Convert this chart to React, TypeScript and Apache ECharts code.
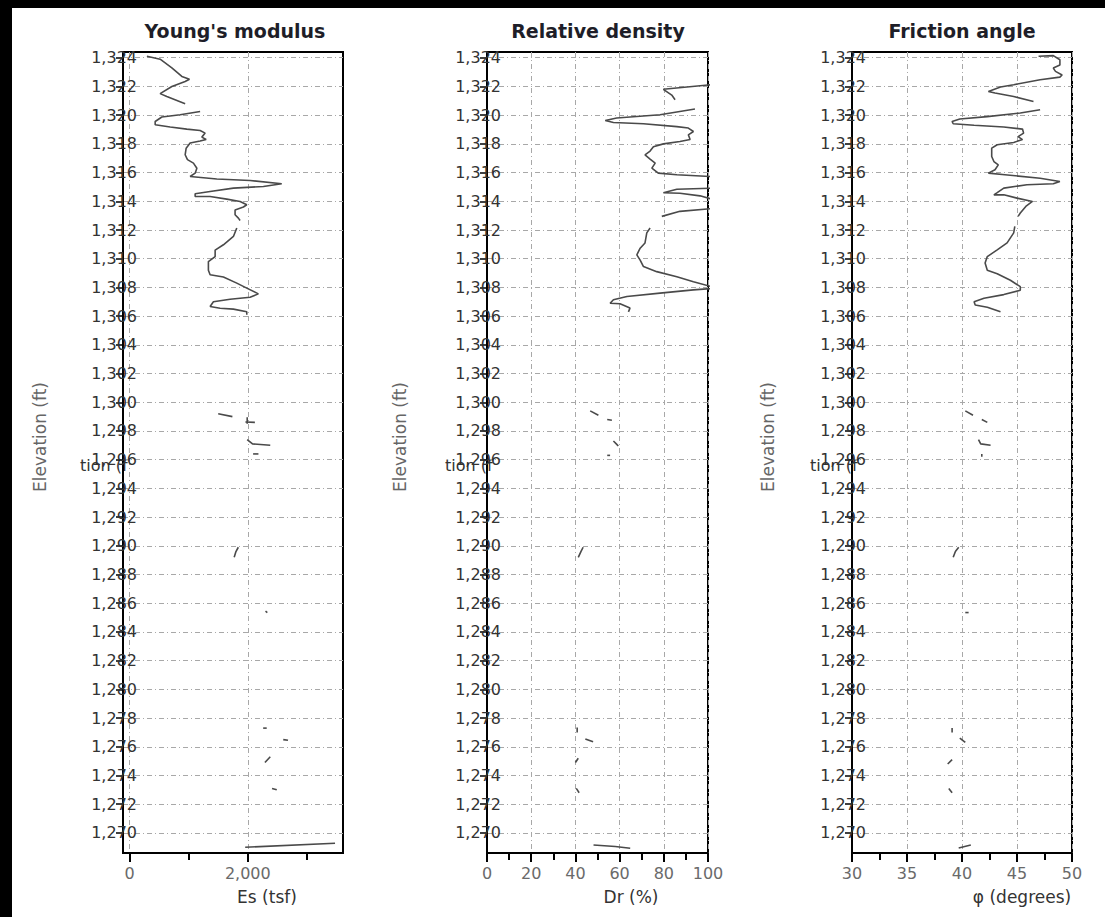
import React, { useEffect, useRef } from "react";
import * as echarts from "echarts";

// ---------- data ----------
const elevTicks = [1270, 1272, 1274, 1276, 1278, 1280, 1282, 1284, 1286, 1288, 1290, 1292, 1294, 1296, 1298, 1300, 1302, 1304, 1306, 1308, 1310, 1312, 1314, 1316, 1318, 1320, 1322, 1324];
const elevMin = 1268.6;
const elevMax = 1324.4;

const titles = ["Young's modulus", "Relative density", "Friction angle"];
const xNames = ["Es (tsf)", "Dr (%)", "φ (degrees)"];
const yName = "Elevation (ft)";

const esMajor = [0, 2000];
const esMinor = [1000, 3000];
const drMajor = [0, 20, 40, 60, 80, 100];
const drMinor = [10, 30, 50, 70, 90];
const phiMajor = [30, 35, 40, 45, 50];
const phiMinor = [32.5, 37.5, 42.5, 47.5];

// [value, elevation]; null = gap in the log
const esData: (number[] | null)[] = [
  [294, 1324.1], [518, 1323.9], [716, 1323.3], [885, 1322.7], [1014, 1322.5], [941, 1322.35], [716, 1322.0], [518, 1321.5], [631, 1321.3], [941, 1320.8],
  null,
  [1194, 1320.26], [856, 1320.03], [547, 1319.87], [434, 1319.56], [434, 1319.33], [688, 1319.17], [969, 1319.03], [1194, 1318.93], [1279, 1318.75], [1223, 1318.47], [1296, 1318.3], [1194, 1318.2], [1025, 1318.06], [958, 1317.7], [941, 1317.24], [980, 1316.9], [1081, 1316.66], [1139, 1316.3], [1110, 1315.96], [1025, 1315.73], [1476, 1315.55], [2039, 1315.45], [2574, 1315.22], [2264, 1315.03], [1757, 1314.92], [1363, 1314.68], [1110, 1314.52], [1110, 1314.33], [1363, 1314.33], [1645, 1314.15], [1870, 1313.99], [1983, 1313.76], [1926, 1313.6], [1785, 1313.4], [1785, 1313.06], [1841, 1312.83], [1870, 1312.66],
  null,
  [1814, 1312.14], [1757, 1311.55], [1588, 1310.97], [1448, 1310.6], [1448, 1310.15], [1334, 1309.8], [1334, 1309.2], [1363, 1308.88], [1588, 1308.72], [1814, 1308.3], [1983, 1307.95], [2179, 1307.55], [2039, 1307.32], [1701, 1307.18], [1419, 1307.0], [1363, 1306.67], [1532, 1306.55], [1757, 1306.49], [1983, 1306.3], [1983, 1306.09],
  null, [1500, 1299.2], [1740, 1299.0],
  null, [1990, 1298.95], [1990, 1298.5],
  null, [1960, 1298.62], [2120, 1298.6],
  null, [1990, 1297.4], [2080, 1297.1], [2380, 1297.0],
  null, [2090, 1296.4], [2180, 1296.4],
  null, [1840, 1289.9], [1800, 1289.6], [1770, 1289.2],
  null, [2300, 1285.45], [2330, 1285.35],
  null, [2260, 1277.3], [2320, 1277.3],
  null, [2600, 1276.5], [2680, 1276.45],
  null, [2290, 1274.9], [2380, 1275.3],
  null, [2410, 1273.1], [2490, 1273.0],
  null, [1956, 1269.0], [3475, 1269.28],
];

const drData: (number[] | null)[] = [
  [104, 1322.15], [100, 1322.1], [79.8, 1321.8], [83.6, 1321.4], [85.1, 1321.07],
  null,
  [94.1, 1320.43], [78.3, 1320.03], [58.7, 1319.8], [53.5, 1319.63], [57.2, 1319.49], [70.8, 1319.4], [85.9, 1319.2], [91.1, 1319.1], [93.4, 1318.86], [91.1, 1318.63], [91.9, 1318.3], [87.3, 1318.17], [79.8, 1318.0], [75.3, 1317.8], [73.8, 1317.5], [71.5, 1317.24], [73.8, 1316.94], [76.1, 1316.66], [74.6, 1316.31], [77.5, 1315.96], [85.9, 1315.85], [104, 1315.7],
  null,
  [104, 1314.92], [85.9, 1314.84], [79.8, 1314.6], [87.3, 1314.56], [96.4, 1314.38], [104, 1314.05],
  null,
  [104, 1313.52], [87.3, 1313.3], [79.1, 1312.95],
  null,
  [73.8, 1312.14], [72.3, 1311.8], [71.5, 1311.1], [69.3, 1310.73], [67.8, 1310.27], [69.3, 1309.9], [70.8, 1309.45], [76.8, 1309.1], [85.9, 1308.75], [93.4, 1308.4], [104, 1307.95], [93.4, 1307.83], [78.3, 1307.6], [63.3, 1307.37], [57.2, 1307.14], [55.7, 1306.9], [60.2, 1306.86], [64.7, 1306.56], [64.0, 1306.3],
  null, [46.7, 1299.4], [50.4, 1299.1],
  null, [54.4, 1298.8], [56.5, 1298.75],
  null, [57.2, 1297.3], [58.5, 1297.1], [59.4, 1296.95],
  null, [54.4, 1296.3], [55.7, 1296.3],
  null, [43.5, 1289.9], [42.5, 1289.6], [41.3, 1289.2],
  null, [40.8, 1277.35], [40.8, 1277.0],
  null, [44.5, 1276.55], [48, 1276.35],
  null, [41.3, 1275.2], [40, 1274.9],
  null, [40.4, 1273.1], [41.7, 1272.8],
  null, [48.2, 1269.16], [58, 1269.05], [64.8, 1268.93],
];

const phiData: (number[] | null)[] = [
  [46.96, 1324.1], [48.3, 1324.15], [48.9, 1323.86], [48.9, 1323.5], [48.3, 1323.28], [48.5, 1323.05], [49.1, 1322.8], [48.9, 1322.65], [47.1, 1322.47], [44.7, 1322.12], [43.5, 1321.96], [42.4, 1321.65], [43.0, 1321.54], [44.7, 1321.3], [46.5, 1320.95],
  null,
  [47.1, 1320.38], [45.3, 1320.15], [42.3, 1319.9], [39.8, 1319.73], [39.1, 1319.56], [39.2, 1319.4], [41.1, 1319.3], [43.8, 1319.17], [45.5, 1319.03], [45.6, 1318.75], [45.1, 1318.5], [45.5, 1318.3], [44.7, 1318.1], [43.2, 1317.94], [42.7, 1317.7], [42.7, 1317.12], [42.9, 1316.77], [43.3, 1316.54], [43.0, 1316.2], [42.4, 1315.96], [43.9, 1315.85], [47.1, 1315.6], [48.9, 1315.38], [48.3, 1315.22], [45.9, 1315.15], [43.8, 1314.92], [43.2, 1314.6], [42.9, 1314.45], [43.8, 1314.45], [45.0, 1314.22], [46.4, 1313.99], [45.8, 1313.64], [45.3, 1313.18], [45.1, 1312.95],
  null,
  [44.8, 1312.25], [44.7, 1311.8], [44.1, 1311.1], [43.2, 1310.62], [42.3, 1310.15], [42.1, 1309.7], [42.3, 1309.2], [43.2, 1308.95], [44.4, 1308.5], [45.3, 1308.05], [45.3, 1307.8], [43.8, 1307.5], [42.0, 1307.25], [41.1, 1307.0], [41.2, 1306.78], [42.3, 1306.62], [43.5, 1306.3],
  null, [40.3, 1299.4], [41.0, 1299.1],
  null, [41.8, 1298.8], [42.3, 1298.6],
  null, [41.5, 1297.4], [41.7, 1297.1], [42.6, 1297.0],
  null, [41.8, 1296.4], [41.8, 1296.2],
  null, [39.7, 1289.9], [39.4, 1289.6], [39.2, 1289.2],
  null, [40.3, 1285.35], [40.6, 1285.35],
  null, [39.1, 1277.3], [39.1, 1277.0],
  null, [39.8, 1276.6], [40.3, 1276.3],
  null, [39.1, 1275.1], [38.7, 1274.8],
  null, [38.8, 1273.1], [39.1, 1272.8],
  null, [39.7, 1268.95], [40.8, 1269.16],
];

// ---------- helpers ----------
function splitSegments(d: (number[] | null)[]): number[][][] {
  const out: number[][][] = [];
  let cur: number[][] = [];
  for (const p of d) {
    if (p === null) {
      if (cur.length) out.push(cur);
      cur = [];
    } else cur.push(p);
  }
  if (cur.length) out.push(cur);
  return out;
}

const FONT = '"DejaVu Sans", Verdana, sans-serif';
const fmtNum = (v: number) => Number(v).toLocaleString("en-US");

export default function App() {
  const ref = useRef<HTMLDivElement>(null);

  useEffect(() => {
    if (!ref.current) return;
    const chart = echarts.init(ref.current, undefined, { renderer: "svg" });

    const panels = [
      { data: esData, min: -110, max: 3610, major: esMajor, minor: esMinor, left: 123, width: 220, titleX: 235, nameX: 267, yNameX: 40, tionX: 80 },
      { data: drData, min: 0, max: 100, major: drMajor, minor: drMinor, left: 487, width: 221, titleX: 598, nameX: 631, yNameX: 400, tionX: 445 },
      { data: phiData, min: 30, max: 50, major: phiMajor, minor: phiMinor, left: 852, width: 220, titleX: 962, nameX: 1022, yNameX: 768, tionX: 810 },
    ];

    const gridLine = { color: "#a8a8a8", width: 1, type: [5, 3, 1, 3] as number[] };

    const grid: any[] = [];
    const xAxis: any[] = [];
    const yAxis: any[] = [];
    const series: any[] = [];
    const graphic: any[] = [
      { type: "rect", shape: { x: 0, y: 0, width: 1105, height: 8 }, style: { fill: "#000" }, z: 100 },
      { type: "rect", shape: { x: 0, y: 0, width: 12, height: 917 }, style: { fill: "#000" }, z: 100 },
    ];

    panels.forEach((p, i) => {
      grid.push({
        left: p.left, top: 52, width: p.width, height: 801,
        show: true, borderColor: "#000", borderWidth: 2, backgroundColor: "transparent",
      });
      xAxis.push({
        gridIndex: i, type: "value", min: p.min, max: p.max, position: "bottom",
        axisLine: { show: true, onZero: false, lineStyle: { color: "#000", width: 2 } },
        axisTick: { show: true, customValues: p.major, length: 9, lineStyle: { color: "#000", width: 2 } },
        axisLabel: { customValues: p.major, formatter: (v: number) => fmtNum(v), margin: 12, fontSize: 16, color: "#6a6a6a", fontFamily: FONT },
        splitLine: { show: true, lineStyle: gridLine },
      });
      xAxis.push({
        gridIndex: i, type: "value", min: p.min, max: p.max, position: "bottom",
        axisLine: { show: false, onZero: false },
        axisTick: { show: true, customValues: p.minor, length: 7, lineStyle: { color: "#000", width: 2 } },
        axisLabel: { show: false },
        splitLine: { show: false },
      });
      yAxis.push({
        gridIndex: i, type: "value", min: elevMin, max: elevMax,
        axisLine: { show: true, onZero: false, lineStyle: { color: "#000", width: 2 } },
        axisTick: { show: true, customValues: elevTicks, length: 7, lineStyle: { color: "#000", width: 1.5 } },
        axisLabel: { customValues: elevTicks, formatter: (v: number) => fmtNum(v), margin: -14, fontSize: 16, color: "#333", fontFamily: FONT },
        splitLine: { show: true, lineStyle: gridLine },
      });
      splitSegments(p.data).forEach((seg) => {
        series.push({
          type: "line", xAxisIndex: 2 * i, yAxisIndex: i, data: seg,
          symbol: "none", showSymbol: false, clip: true, silent: true,
          lineStyle: { color: "#4a4a4a", width: 1.6 },
        });
      });
      graphic.push({
        type: "text", x: p.titleX, y: 31,
        style: { text: titles[i], align: "center", verticalAlign: "middle", fontSize: 19, fontWeight: "bold", fontFamily: FONT, fill: "#1e1e28" },
      });
      graphic.push({
        type: "text", x: p.nameX, y: 897,
        style: { text: xNames[i], align: "center", verticalAlign: "middle", fontSize: 17, fontFamily: FONT, fill: "#333" },
      });
      graphic.push({
        type: "text", x: p.yNameX, y: 437, rotation: Math.PI / 2,
        style: { text: yName, align: "center", verticalAlign: "middle", fontSize: 17, fontFamily: FONT, fill: "#666" },
      });
      graphic.push({
        type: "text", x: p.tionX, y: 465,
        style: { text: "tion (f", align: "left", verticalAlign: "middle", fontSize: 16, fontFamily: FONT, fill: "#333" },
      });
    });

    chart.setOption({
      animation: false,
      backgroundColor: "#fff",
      grid, xAxis, yAxis, series, graphic,
    });

    return () => chart.dispose();
  }, []);

  return (
    <div
      ref={ref}
      style={{ position: "fixed", left: 0, top: 0, width: 1105, height: 917, background: "#fff" }}
    />
  );
}
